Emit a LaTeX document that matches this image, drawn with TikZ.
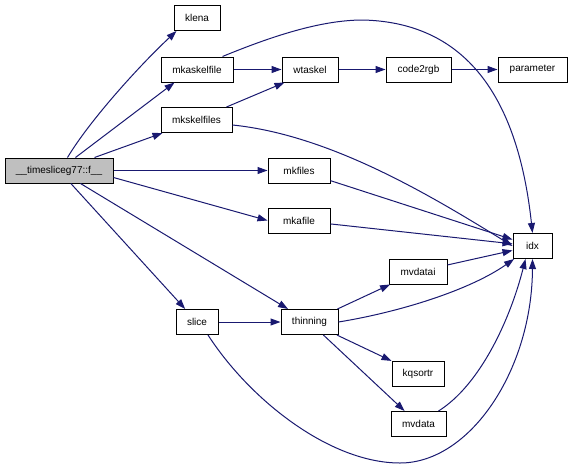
\documentclass[tikz,border=0pt]{standalone}
\usepackage{fontspec}
\setmainfont{Liberation Sans}
\usetikzlibrary{arrows.meta}
\definecolor{edgeblue}{HTML}{191970}
\definecolor{maingray}{HTML}{BFBFBF}
\tikzset{
  fn/.style={draw=black, line width=1pt, minimum height=25pt, inner sep=0pt, font=\fontsize{10}{12}\selectfont, fill=white},
  call/.style={draw=edgeblue, line width=1pt, -{Triangle[length=10pt,width=7pt]}}
}
\begin{document}
\begin{tikzpicture}[x=1pt,y=-1pt]
\useasboundingbox (0,0) rectangle (572,471);
% nodes
\node[fn, fill=maingray, minimum width=108pt] (main) at (59,170.5) {\_\_timesliceg77::f\_\_};
\node[fn, minimum width=46pt] (klena) at (197,18) {klena};
\node[fn, minimum width=72pt] (mkaskelfile) at (197,69.5) {mkaskelfile};
\node[fn, minimum width=71pt] (mkskelfiles) at (196.5,120) {mkskelfiles};
\node[fn, minimum width=56pt] (wtaskel) at (310,69.5) {wtaskel};
\node[fn, minimum width=65pt] (code2rgb) at (418.5,69.5) {code2rgb};
\node[fn, minimum width=69pt] (parameter) at (532.5,69.5) {parameter};
\node[fn, minimum width=62pt] (mkfiles) at (299,170.5) {mkfiles};
\node[fn, minimum width=62pt] (mkafile) at (299,220.5) {mkafile};
\node[fn, minimum width=39pt] (idx) at (532.5,246) {idx};
\node[fn, minimum width=58pt] (mvdatai) at (418,271.5) {mvdatai};
\node[fn, minimum width=42pt] (slice) at (197,322) {slice};
\node[fn, minimum width=57pt] (thinning) at (309.5,322) {thinning};
\node[fn, minimum width=52pt] (kqsortr) at (418,373.5) {kqsortr};
\node[fn, minimum width=55pt] (mvdata) at (418.5,424) {mvdata};
% anchor points on main
\coordinate (m1) at ([xshift=63pt]main.north west);
\coordinate (m2) at ([xshift=71pt]main.north west);
\coordinate (m3) at ([xshift=90pt]main.north west);
\coordinate (m4) at ([yshift=-7pt]main.east);
% edges from main
\draw[call] (m1) .. controls (90,120) and (140,65) .. ([xshift=3pt]klena.south west);
\draw[call] (m2) -- ([xshift=14pt]mkaskelfile.south west);
\draw[call] (m3) -- ([xshift=2pt]mkskelfiles.south west);
\draw[call] (main.east) -- (mkfiles.west);
\draw[call] (m4) -- (mkafile.west);
\draw[call] (main) -- (slice);
\draw[call] (main) -- (thinning);
% mkaskelfile / mkskelfiles
\draw[call] (mkaskelfile.east) -- (wtaskel.west);
\coordinate (mks1) at ([xshift=-6pt]mkskelfiles.north east);
\draw[call] (mks1) -- ([xshift=3pt]wtaskel.south west);
\coordinate (mka1) at ([xshift=-11pt]mkaskelfile.north east);
\coordinate (topc) at (363,20);
\draw[call] (mka1) .. controls (270,37) and (320,20) .. (topc) .. controls (445,22) and (515,70) .. (idx.north);
\coordinate (mks2) at ([yshift=-5pt]mkskelfiles.east);
\draw[call] (mks2) .. controls (330,135) and (430,195) .. (idx.west);
\draw[call] (wtaskel.east) -- (code2rgb.west);
\draw[call] (code2rgb.east) -- (parameter.west);
% to idx
\draw[call] (mkfiles) -- (idx);
\draw[call] (mkafile) -- (idx);
\draw[call] (mvdatai) -- (idx);
\draw[call] (thinning.east) .. controls (400,312) and (470,290) .. (idx);
\coordinate (mvd1) at ([xshift=-8pt]mvdata.north east);
\draw[call] (mvd1) .. controls (480,385) and (510,320) .. ([xshift=-7pt]idx.south);
\coordinate (sl1) at ([xshift=11pt]slice.south);
\coordinate (botc) at (400,463);
\draw[call] (sl1) .. controls (250,400) and (330,463) .. (botc) .. controls (470,463) and (532,370) .. (idx.south);
% slice / thinning
\draw[call] (slice.east) -- (thinning.west);
\draw[call] (thinning) -- (mvdatai);
\draw[call] (thinning) -- (kqsortr);
\draw[call] (thinning) -- (mvdata);
\end{tikzpicture}
\end{document}
